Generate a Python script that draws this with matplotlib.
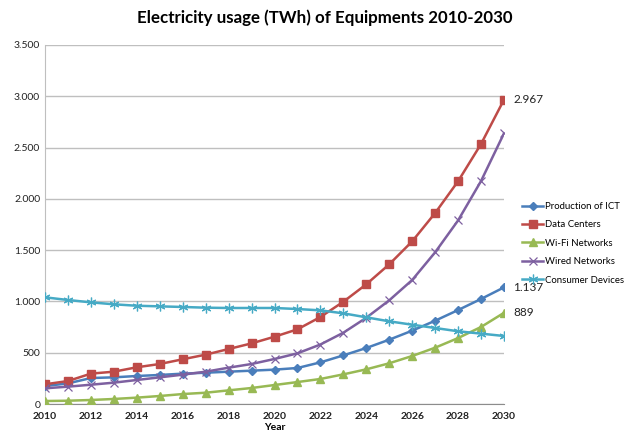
import matplotlib
matplotlib.use("Agg")
import matplotlib.pyplot as plt
from matplotlib.ticker import FuncFormatter, MultipleLocator

plt.rcParams['font.family'] = ['Lato', 'DejaVu Sans']

years = list(range(2010, 2031))

production_ict = [175, 201, 253, 260, 273, 283, 296, 305, 315, 325, 335, 351,
                  406, 474, 546, 627, 715, 812, 916, 1024, 1137]
data_centers = [192, 224, 296, 315, 358, 390, 436, 481, 536, 591, 656, 728,
                848, 997, 1167, 1362, 1586, 1862, 2172, 2535, 2967]
wifi_networks = [29, 32, 39, 49, 62, 78, 97, 110, 133, 156, 185, 214,
                 244, 289, 338, 397, 468, 549, 643, 751, 889]
wired_networks = [153, 169, 188, 208, 234, 260, 286, 315, 354, 390, 439, 494,
                  580, 695, 841, 1011, 1209, 1479, 1790, 2174, 2639]
consumer_devices = [1040, 1014, 991, 972, 958, 952, 946, 939, 936, 936, 936, 926,
                    913, 884, 845, 806, 773, 741, 709, 686, 663]

series = [
    ("Production of ICT", production_ict, "#4A7EBB", dict(marker="D", markersize=4)),
    ("Data Centers", data_centers, "#BE4B48", dict(marker="s", markersize=5.5)),
    ("Wi-Fi Networks", wifi_networks, "#98B954", dict(marker="^", markersize=6)),
    ("Wired Networks", wired_networks, "#7D60A0", dict(marker="x", markersize=5.5, markeredgewidth=0.9)),
    ("Consumer Devices", consumer_devices, "#46AAC5", dict(marker=(6, 2, 0), markersize=7, markeredgewidth=0.9)),
]

fig = plt.figure(figsize=(6.3, 4.32), dpi=100)
ax = fig.add_axes([45 / 630, 1 - 404 / 432, (504 - 45) / 630, (404 - 45) / 432])

for name, vals, color, mk in series:
    ax.plot(years, vals, color=color, lw=1.8, label=name, zorder=3, **mk)

# value labels at the last year
for vals in (data_centers, production_ict, wifi_networks):
    v = vals[-1]
    txt = f"{v:,}".replace(",", ".")
    ax.annotate(txt, (years[-1], v), xytext=(6.5, 0), textcoords="offset points",
                va="center", ha="left", fontsize=8.5, color="#222222",
                annotation_clip=False)

ax.set_xlim(2010, 2030)
ax.set_ylim(0, 3500)
ax.xaxis.set_major_locator(MultipleLocator(2))
ax.yaxis.set_major_locator(MultipleLocator(500))
ax.yaxis.set_major_formatter(FuncFormatter(lambda v, p: f"{int(v):,}".replace(",", ".")))

ax.grid(axis="y", color="#BFBFBF", lw=1.0)
ax.set_axisbelow(True)
for s in ("top", "right"):
    ax.spines[s].set_visible(False)
ax.spines["left"].set_color("#BFBFBF")
ax.spines["bottom"].set_color("#8C8C8C")
ax.tick_params(axis="both", length=0, labelsize=7.5, colors="#222222")
ax.tick_params(axis="x", pad=6)
for lbl in ax.get_xticklabels():
    lbl.set_fontweight("bold")

ax.set_xlabel("Year", fontsize=7.5, fontweight="bold", labelpad=1)

fig.text(0.515, 1 - 18 / 432, "Electricity usage (TWh) of Equipments 2010-2030",
         ha="center", va="center", fontsize=12.2, fontweight="bold")

fig.legend(loc="upper left", bbox_to_anchor=(522 / 630, 1 - 202 / 432),
           frameon=False, fontsize=6.9, handlelength=2.2, handletextpad=0.15,
           labelspacing=0.98, borderaxespad=0, borderpad=0)

fig.savefig("out.png", dpi=100)
